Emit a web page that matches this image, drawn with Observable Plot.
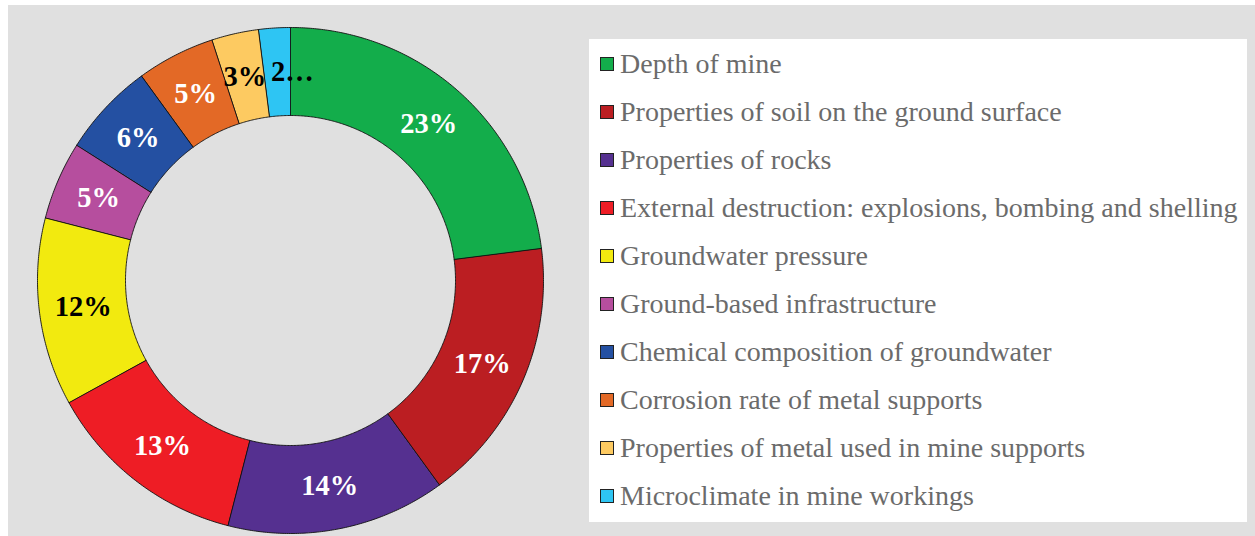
<!DOCTYPE html>
<html>
<head>
<meta charset="utf-8">
<script src="https://cdn.jsdelivr.net/npm/d3@7"></script>
<script src="https://cdn.jsdelivr.net/npm/@observablehq/plot@0.6"></script>
<style>
  html, body { margin: 0; padding: 0; background: #ffffff; }
  #panel { position: absolute; left: 8px; top: 5px; width: 1247px; height: 531px; background: #e0e0e0; }
  #chart { position: absolute; left: 0; top: 0; }
  #legend { position: absolute; left: 581px; top: 34px; width: 658px; height: 483px; background: #ffffff; }
  .row { position: absolute; left: 11px; height: 30px; display: flex; align-items: center;
         font-family: "Liberation Serif", "Times New Roman", serif; font-size: 28px; color: #6b6b6b; white-space: nowrap; }
  .sw { width: 12px; height: 12px; border: 1px solid #222; margin-right: 6px; box-sizing: content-box; flex: none; }
</style>
</head>
<body>
<div id="panel">
  <div id="chart"></div>
  <div id="legend"></div>
</div>
<script>
const categories = [
  "Depth of mine",
  "Properties of soil on the ground surface",
  "Properties of rocks",
  "External destruction: explosions, bombing and shelling",
  "Groundwater pressure",
  "Ground-based infrastructure",
  "Chemical composition of groundwater",
  "Corrosion rate of metal supports",
  "Properties of metal used in mine supports",
  "Microclimate in mine workings"
];
const values = [23, 17, 14, 13, 12, 5, 6, 5, 3, 2];
const labels = ["23%", "17%", "14%", "13%", "12%", "5%", "6%", "5%", "3%", "2…"];
const colors = ["#13ad4b", "#bb1e22", "#553090", "#ee1d25", "#f2ea0f", "#b64e9e", "#2450a2", "#e36926", "#fdca61", "#2ec5f3"];
const labelColors = ["white", "white", "white", "white", "black", "white", "white", "white", "black", "black"];

// geometry (pixel units in the chart's data space)
const W = 581, H = 531;
const cx = 282, cy = 275;       // centre within the svg
const R = 253, r = 165;         // outer / inner radius

const total = d3.sum(values);
const slices = [];
let acc = 0;
values.forEach((v, i) => {
  const a0 = acc / total * 2 * Math.PI;
  acc += v;
  const a1 = acc / total * 2 * Math.PI;
  slices.push({cat: categories[i], a0, a1, i});
});

// polygon points for each slice
const pts = [];
for (const s of slices) {
  const n = Math.max(4, Math.ceil((s.a1 - s.a0) / (Math.PI / 360)));
  for (let k = 0; k <= n; k++) {
    const a = s.a0 + (s.a1 - s.a0) * k / n;
    pts.push({cat: s.cat, x: R * Math.sin(a), y: R * Math.cos(a)});
  }
  for (let k = n; k >= 0; k--) {
    const a = s.a0 + (s.a1 - s.a0) * k / n;
    pts.push({cat: s.cat, x: r * Math.sin(a), y: r * Math.cos(a)});
  }
}

const mid = (R + r) / 2;
const last = slices.length - 1;
const labelData = slices.map(s => {
  const a = (s.a0 + s.a1) / 2;
  // the truncated last label sits a little right of its slice, as in the original
  const shift = s.i === last ? 15 : 0;
  return {x: mid * Math.sin(a) + shift, y: mid * Math.cos(a), label: labels[s.i], color: labelColors[s.i]};
});

const chart = Plot.plot({
  width: W,
  height: H,
  margin: 0,
  style: {background: "transparent", overflow: "visible"},
  x: {domain: [-cx, W - cx], range: [0, W], axis: null},
  y: {domain: [-(H - cy), cy], range: [H, 0], axis: null},
  color: {domain: categories, range: colors},
  marks: [
    Plot.line(pts, {x: "x", y: "y", z: "cat", fill: "cat", stroke: "#111", strokeWidth: 0.9, curve: "linear-closed"}),
    Plot.text(labelData, {x: "x", y: "y", text: "label", fill: d => d.color,
      fontSize: 28.5, fontWeight: "bold", fontFamily: "Liberation Serif, Times New Roman, serif"})
  ]
});
document.getElementById("chart").appendChild(chart);

const legend = document.getElementById("legend");
categories.forEach((c, i) => {
  const row = document.createElement("div");
  row.className = "row";
  row.style.top = (10 + i * 48) + "px";
  const sw = document.createElement("div");
  sw.className = "sw";
  sw.style.background = colors[i];
  const t = document.createElement("span");
  t.textContent = c;
  row.appendChild(sw);
  row.appendChild(t);
  legend.appendChild(row);
});
</script>
</body>
</html>
